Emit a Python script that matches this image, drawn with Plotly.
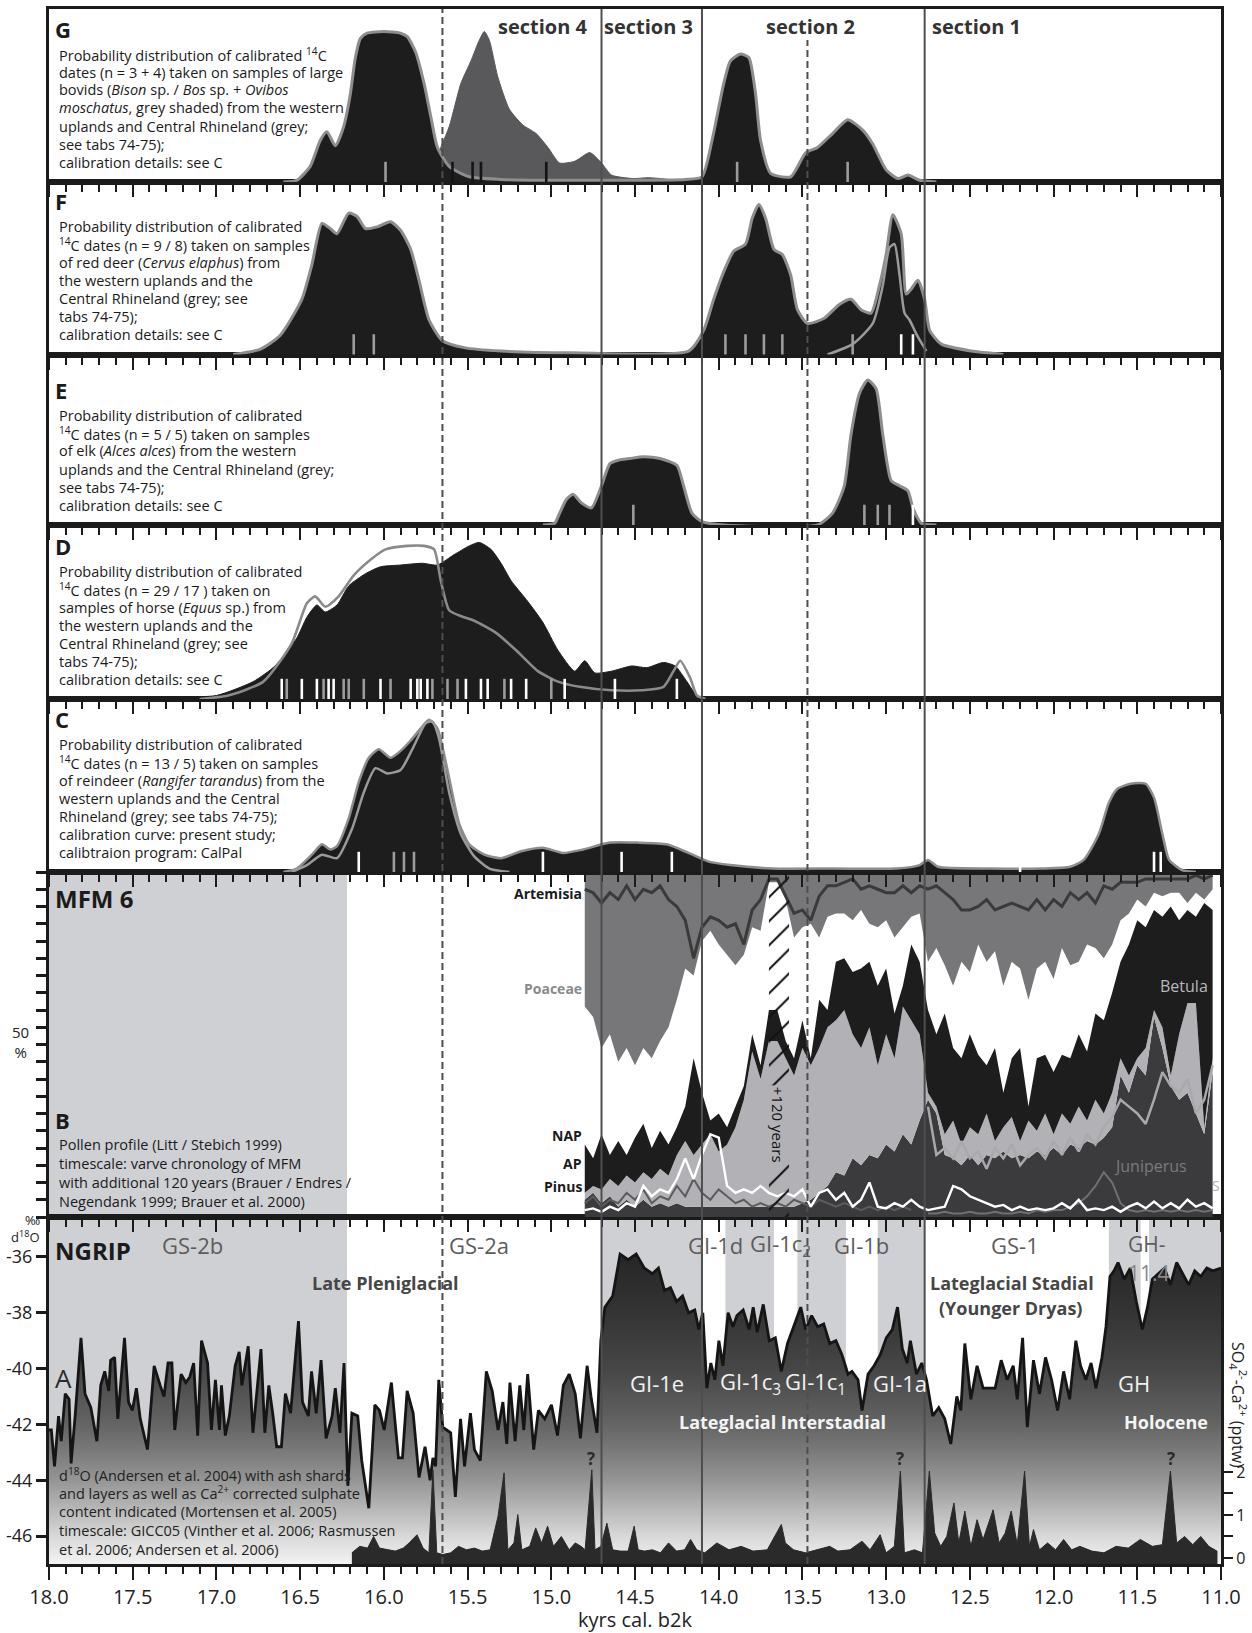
import plotly.graph_objects as go

# ---------------------------------------------------------------------------
# Data (kyrs cal. b2k on x)
# ---------------------------------------------------------------------------

# G - large bovids
G_KYR = [16.60, 16.52, 16.44, 16.38, 16.34, 16.29, 16.24, 16.20, 16.17, 16.14, 16.10, 16.00, 15.90,
         15.86, 15.81, 15.76, 15.72, 15.68, 15.61, 15.49, 15.30, 15.00, 14.60, 14.20, 14.10, 14.04,
         13.97, 13.93, 13.87, 13.82, 13.78, 13.75, 13.69, 13.57, 13.48, 13.41, 13.32, 13.23, 13.14,
         13.08, 13.00, 12.93, 12.87, 12.80, 12.70]
G_PDF = [0.0, 0.01, 0.09, 0.24, 0.29, 0.21, 0.32, 0.51, 0.72, 0.83, 0.86, 0.87, 0.86,
         0.84, 0.75, 0.57, 0.38, 0.20, 0.09, 0.03, 0.015, 0.01, 0.01, 0.015, 0.03, 0.24,
         0.57, 0.70, 0.74, 0.72, 0.51, 0.24, 0.05, 0.03, 0.17, 0.20, 0.28, 0.36, 0.30,
         0.22, 0.07, 0.02, 0.04, 0.01, 0.0]
G_OVIBOS_KYR = [15.76, 15.71, 15.61, 15.54, 15.48, 15.43, 15.40, 15.37, 15.32, 15.25, 15.17, 15.09,
                15.02, 14.95, 14.86, 14.77, 14.70, 14.64, 14.51, 14.42, 14.30, 14.21]
G_OVIBOS_PDF = [0.0, 0.09, 0.32, 0.57, 0.70, 0.82, 0.87, 0.82, 0.61, 0.42, 0.33, 0.28,
                0.20, 0.11, 0.12, 0.17, 0.11, 0.04, 0.02, 0.025, 0.015, 0.0]
G_RHINE_KYR = [16.40, 16.30, 16.15, 16.00, 15.85, 15.75, 15.70, 15.66]
G_RHINE_PDF = [0.0, 0.02, 0.03, 0.03, 0.04, 0.07, 0.10, 0.14]
G_DATE_KYR = [15.99, 15.59, 15.47, 15.42, 15.03, 13.89, 13.23]
G_DATE_TONE = ['grey', 'black', 'black', 'black', 'black', 'grey', 'grey']

# F - red deer
F_KYR = [16.90, 16.74, 16.62, 16.49, 16.43, 16.37, 16.32, 16.28, 16.21, 16.16, 16.11, 16.04, 15.96,
         15.90, 15.84, 15.79, 15.73, 15.65, 15.52, 15.30, 14.87, 14.18, 14.09, 14.03, 13.97, 13.91,
         13.84, 13.80, 13.76, 13.72, 13.67, 13.62, 13.57, 13.53, 13.47, 13.37, 13.28, 13.21, 13.15,
         13.09, 13.04, 13.00, 12.96, 12.91, 12.88, 12.85, 12.81, 12.77, 12.74, 12.67, 12.49, 12.30]
F_PDF = [0.0, 0.03, 0.11, 0.32, 0.52, 0.76, 0.73, 0.70, 0.82, 0.80, 0.73, 0.74, 0.77,
         0.72, 0.61, 0.43, 0.20, 0.08, 0.04, 0.02, 0.01, 0.02, 0.14, 0.32, 0.48, 0.60,
         0.64, 0.79, 0.87, 0.79, 0.61, 0.58, 0.46, 0.26, 0.18, 0.21, 0.29, 0.32, 0.26,
         0.24, 0.40, 0.58, 0.81, 0.70, 0.35, 0.38, 0.43, 0.32, 0.14, 0.06, 0.02, 0.0]
F_RHINE_KYR = [13.35, 13.20, 13.08, 13.02, 12.98, 12.95, 12.92, 12.89, 12.86, 12.82, 12.76]
F_RHINE_PDF = [0.0, 0.06, 0.18, 0.40, 0.62, 0.64, 0.46, 0.24, 0.20, 0.12, 0.02]
F_DATE_KYR = [16.18, 16.06, 13.96, 13.84, 13.73, 13.62, 13.20, 12.91, 12.84]
F_DATE_TONE = ['grey', 'grey', 'grey', 'grey', 'grey', 'grey', 'grey', 'white', 'white']

# E - elk
E_KYR = [15.05, 14.98, 14.95, 14.91, 14.87, 14.82, 14.76, 14.70, 14.65, 14.60, 14.53, 14.45, 14.35,
         14.25, 14.21, 14.16, 14.10, 13.97, 13.41, 13.32, 13.25, 13.21, 13.16, 13.11, 13.06, 13.02,
         12.97, 12.92, 12.87, 12.84, 12.79, 12.70]
E_PDF = [0.0, 0.01, 0.07, 0.15, 0.18, 0.13, 0.10, 0.23, 0.36, 0.38, 0.39, 0.40, 0.39,
         0.35, 0.23, 0.07, 0.02, 0.0, 0.0, 0.07, 0.23, 0.53, 0.77, 0.85, 0.80, 0.53,
         0.26, 0.23, 0.20, 0.10, 0.01, 0.0]
E_DATE_KYR = [14.51, 13.13, 13.05, 12.98, 12.84]
E_DATE_TONE = ['grey', 'grey', 'grey', 'grey', 'white']

# D - horse
D_KYR = [17.40, 17.27, 17.00, 16.78, 16.65, 16.52, 16.46, 16.40, 16.35, 16.28, 16.21, 16.11, 16.02,
         15.90, 15.77, 15.68, 15.58, 15.49, 15.43, 15.36, 15.30, 15.24, 15.14, 15.05, 14.96, 14.86,
         14.80, 14.74, 14.64, 14.52, 14.43, 14.33, 14.26, 14.19, 14.13, 14.05]
D_PDF = [0.0, 0.01, 0.02, 0.10, 0.19, 0.35, 0.47, 0.54, 0.50, 0.54, 0.65, 0.72, 0.76,
         0.77, 0.78, 0.77, 0.83, 0.88, 0.90, 0.86, 0.78, 0.68, 0.56, 0.44, 0.28, 0.16,
         0.22, 0.15, 0.16, 0.19, 0.18, 0.21, 0.19, 0.10, 0.02, 0.0]
D_RHINE_KYR = [17.10, 16.93, 16.72, 16.55, 16.46, 16.41, 16.35, 16.27, 16.18, 16.08, 15.99, 15.86,
               15.76, 15.70, 15.66, 15.61, 15.55, 15.46, 15.33, 15.21, 15.08, 14.96, 14.83, 14.64,
               14.46, 14.33, 14.27, 14.23, 14.17, 14.13, 14.08]
D_RHINE_PDF = [0.0, 0.02, 0.10, 0.32, 0.55, 0.59, 0.53, 0.59, 0.71, 0.80, 0.86, 0.88,
               0.88, 0.86, 0.68, 0.51, 0.48, 0.45, 0.38, 0.28, 0.16, 0.10, 0.07, 0.05,
               0.05, 0.07, 0.16, 0.22, 0.12, 0.02, 0.0]
D_DATE_KYR = [16.61, 16.58, 16.49, 16.40, 16.36, 16.33, 16.30, 16.24, 16.21, 16.12, 16.02, 15.96,
              15.84, 15.80, 15.78, 15.74, 15.71, 15.62, 15.56, 15.51, 15.42, 15.38, 15.28, 15.24,
              15.15, 15.00, 14.92, 14.62, 14.25]
D_DATE_TONE = ['white', 'grey', 'white', 'white', 'grey', 'white', 'white', 'grey', 'grey', 'grey',
               'white', 'grey', 'white', 'white', 'white', 'white', 'grey', 'grey', 'grey', 'white',
               'white', 'white', 'grey', 'white', 'white', 'grey', 'white', 'white', 'white']

# C - reindeer
C_KYR = [16.60, 16.52, 16.43, 16.37, 16.32, 16.28, 16.21, 16.15, 16.09, 16.03, 15.96, 15.90, 15.84,
         15.78, 15.73, 15.68, 15.62, 15.55, 15.49, 15.40, 15.30, 15.18, 15.05, 14.93, 14.81, 14.65,
         14.49, 14.31, 14.18, 14.06, 13.93, 13.68, 13.31, 12.94, 12.80, 12.75, 12.69, 12.38, 12.07,
         11.90, 11.82, 11.73, 11.67, 11.62, 11.54, 11.45, 11.40, 11.35, 11.31, 11.23, 11.15]
C_PDF = [0.0, 0.02, 0.10, 0.16, 0.13, 0.15, 0.31, 0.52, 0.66, 0.71, 0.66, 0.70, 0.76,
         0.83, 0.88, 0.83, 0.59, 0.28, 0.16, 0.10, 0.08, 0.12, 0.14, 0.11, 0.13, 0.17,
         0.17, 0.16, 0.11, 0.06, 0.04, 0.02, 0.02, 0.02, 0.04, 0.07, 0.03, 0.02, 0.02,
         0.03, 0.07, 0.22, 0.40, 0.48, 0.51, 0.51, 0.43, 0.22, 0.07, 0.01, 0.0]
C_RHINE_KYR = [16.55, 16.46, 16.37, 16.28, 16.19, 16.12, 16.05, 15.98, 15.90, 15.83, 15.75, 15.71,
               15.67, 15.61, 15.54, 15.46, 15.37, 15.25]
C_RHINE_PDF = [0.0, 0.04, 0.10, 0.08, 0.25, 0.46, 0.60, 0.57, 0.59, 0.71, 0.86, 0.87,
               0.77, 0.46, 0.22, 0.09, 0.02, 0.0]
C_DATE_KYR = [16.15, 15.94, 15.88, 15.82, 15.05, 14.58, 14.28, 12.20, 11.40, 11.36]
C_DATE_TONE = ['white', 'grey', 'grey', 'grey', 'white', 'white', 'white', 'white', 'white', 'white']

# B - pollen profile MFM 6 (cumulative %, layer boundaries)
POLLEN_KYR = [14.80, 14.75, 14.70, 14.65, 14.60, 14.55, 14.50, 14.45, 14.40, 14.35, 14.30, 14.25,
              14.20, 14.15, 14.10, 14.05, 14.00, 13.95, 13.90, 13.85, 13.80, 13.75, 13.70, 13.65,
              13.60, 13.55, 13.50, 13.45, 13.40, 13.35, 13.30, 13.25, 13.20, 13.15, 13.10, 13.05,
              13.00, 12.95, 12.90, 12.85, 12.80, 12.75, 12.70, 12.65, 12.60, 12.55, 12.50, 12.45,
              12.40, 12.35, 12.30, 12.25, 12.20, 12.15, 12.10, 12.05, 12.00, 11.95, 11.90, 11.85,
              11.80, 11.75, 11.70, 11.65, 11.60, 11.55, 11.50, 11.45, 11.40, 11.35, 11.30, 11.25,
              11.20, 11.15, 11.10, 11.05]
ARTEMISIA = [95, 94, 91, 94, 92, 96, 92, 95, 94, 96, 92, 90, 86, 75, 84, 87, 86, 84, 85, 79,
             89, 92, 98, 98, 93, 88, 89, 86, 93, 96, 96, 97, 98, 95, 96, 95, 94, 94, 96, 94,
             96, 95, 96, 94, 92, 89, 89, 90, 92, 89, 90, 91, 90, 89, 92, 89, 92, 90, 94, 92,
             94, 91, 96, 95, 97, 97, 97, 98, 98, 98, 98, 98, 98, 99, 98, 99]
POACEAE_BASE = [61, 58, 49, 53, 45, 49, 44, 49, 46, 51, 55, 63, 72, 70, 80, 83, 79, 76, 73, 76,
                84, 83, 97, 97, 92, 81, 84, 85, 81, 87, 88, 88, 86, 89, 85, 84, 86, 81, 84, 87,
                88, 74, 78, 73, 67, 74, 71, 79, 74, 77, 67, 74, 72, 63, 72, 74, 69, 78, 73, 74,
                79, 78, 75, 79, 86, 88, 92, 90, 94, 93, 94, 94, 91, 94, 92, 95]
BETULA_TOP = [21, 17, 24, 18, 22, 18, 23, 27, 20, 25, 21, 26, 32, 46, 36, 28, 30, 26, 32, 38,
              53, 44, 60, 60, 51, 46, 57, 46, 63, 60, 74, 75, 71, 72, 74, 67, 72, 59, 67, 79,
              74, 60, 53, 59, 49, 46, 53, 47, 44, 49, 36, 46, 49, 32, 46, 47, 42, 47, 46, 53,
              48, 59, 57, 65, 74, 79, 86, 84, 89, 87, 90, 86, 89, 87, 91, 89]
AP_TOP = [7, 9, 8, 11, 9, 12, 10, 13, 11, 14, 12, 18, 22, 18, 21, 24, 19, 21, 26, 34,
          48, 40, 51, 51, 46, 41, 49, 44, 49, 55, 57, 60, 53, 49, 55, 44, 53, 46, 61, 57,
          53, 36, 32, 24, 28, 21, 26, 24, 30, 22, 26, 29, 22, 28, 25, 30, 24, 30, 27, 32,
          28, 34, 30, 36, 46, 41, 46, 49, 60, 55, 41, 53, 62, 62, 26, 46]
PINUS_TOP = [5, 7, 4, 6, 3, 5, 3, 5, 3, 4, 3, 4, 3, 3, 3, 3, 3, 3, 3, 3,
             3, 3, 3, 3, 3, 3, 4, 5, 7, 9, 13, 12, 17, 15, 18, 17, 21, 19, 24, 21,
             28, 34, 30, 18, 17, 15, 18, 15, 18, 17, 19, 17, 18, 17, 19, 18, 20, 18, 21, 20,
             22, 21, 23, 26, 41, 36, 44, 41, 58, 49, 38, 34, 36, 30, 24, 42]
JUNIPERUS_CURVE = [32, 18, 20, 17, 22, 17, 19, 14, 20, 17, 21, 15, 18, 20, 17, 22, 18, 23, 19, 24,
                   21, 26, 29, 34, 32, 30, 27, 34, 42, 38, 36, 40, 30, 34, 44]
JUNIPERUS_LOW = [1, 1, 1.5, 1, 1, 1.5, 1, 1, 1.5, 1, 1, 1.5, 1, 2, 1.5, 2, 2, 3, 4, 6,
                 9, 13, 10, 4, 2, 1.5, 2, 1.5, 2, 1.5, 2, 1.5, 2, 1.5, 2]
PINUS_CURVE = [4, 6, 3, 5, 4, 7, 5, 8, 4, 6, 5, 9, 6, 11, 7, 5, 8, 6, 4, 5,
               3, 4, 3, 4, 3, 5, 4, 3, 5, 4, 3, 4, 3, 2, 3, 2, 3, 2, 3, 2]
SALIX_CURVE = [2, 2.5, 1.5, 3, 2, 4, 3, 9, 6, 8, 7, 11, 17, 11, 18, 24, 23, 9, 7, 8,
               7, 9, 7, 6, 7, 6, 8, 3, 7, 8, 5, 7, 3, 5, 10, 3, 2.5, 4, 3, 5,
               3, 2, 2.5, 3, 9, 8, 6, 5, 4, 3, 3.5, 2, 3, 2, 2.5, 2, 2.5, 4, 2.5, 5,
               2, 2.5, 2, 3, 1.5, 3, 4, 2.5, 4.5, 2.5, 4, 2.5, 5, 3, 4, 2.5]
VARVE_GAP = (13.70, 13.58)  # +120 years inserted into the varve chronology

# A - NGRIP d18O
D18O_KYR = [18.00, 17.986, 17.967, 17.943, 17.927, 17.903, 17.880, 17.868, 17.844, 17.809,
            17.785, 17.750, 17.714, 17.691, 17.667, 17.643, 17.632, 17.608, 17.589, 17.549,
            17.525, 17.502, 17.478, 17.455, 17.412, 17.372, 17.336, 17.313, 17.289, 17.266,
            17.249, 17.211, 17.183, 17.159, 17.136, 17.112, 17.089, 17.053, 17.030, 17.006,
            16.982, 16.970, 16.947, 16.923, 16.888, 16.864, 16.848, 16.810, 16.782, 16.734,
            16.711, 16.687, 16.664, 16.640, 16.612, 16.588, 16.557, 16.510, 16.486, 16.451,
            16.432, 16.404, 16.375, 16.345, 16.309, 16.290, 16.262, 16.238, 16.215, 16.191,
            16.156, 16.132, 16.090, 16.054, 16.026, 15.998, 15.955, 15.913, 15.889, 15.861,
            15.825, 15.790, 15.754, 15.724, 15.707, 15.691, 15.672, 15.648, 15.601, 15.573,
            15.542, 15.518, 15.483, 15.459, 15.424, 15.388, 15.353, 15.318, 15.289, 15.266,
            15.247, 15.216, 15.188, 15.164, 15.141, 15.105, 15.077, 15.039, 14.999, 14.963,
            14.928, 14.893, 14.857, 14.826, 14.786, 14.763, 14.727, 14.704, 14.680, 14.633,
            14.589, 14.541, 14.493, 14.444, 14.396, 14.360, 14.324, 14.288, 14.252, 14.216,
            14.180, 14.143, 14.119, 14.095, 14.071, 14.047, 14.023, 13.999, 13.975, 13.944,
            13.915, 13.891, 13.854, 13.818, 13.794, 13.770, 13.734, 13.698, 13.662, 13.626,
            13.589, 13.553, 13.510, 13.481, 13.445, 13.409, 13.373, 13.337, 13.300, 13.264,
            13.228, 13.204, 13.168, 13.144, 13.108, 13.072, 13.035, 12.999, 12.963, 12.932,
            12.903, 12.874, 12.855, 12.819, 12.787, 12.759, 12.722, 12.686, 12.650, 12.614,
            12.578, 12.554, 12.530, 12.494, 12.457, 12.421, 12.385, 12.349, 12.313, 12.277,
            12.241, 12.217, 12.185, 12.157, 12.120, 12.084, 12.048, 12.012, 11.976, 11.940,
            11.904, 11.867, 11.839, 11.807, 11.776, 11.747, 11.711, 11.687, 11.663, 11.639,
            11.615, 11.578, 11.542, 11.506, 11.470, 11.439, 11.410, 11.374, 11.338, 11.302,
            11.265, 11.229, 11.193, 11.157, 11.121, 11.085, 11.049, 11.000]
D18O = [-42.2, -42.2, -43.5, -41.7, -42.6, -40.9, -41.1, -43.4, -41.7, -38.9,
        -40.9, -41.4, -42.6, -40.6, -40.1, -40.8, -39.7, -39.6, -41.8, -38.9,
        -41.2, -41.5, -40.7, -41.8, -42.9, -39.9, -40.6, -41.0, -39.8, -39.8,
        -42.2, -40.2, -40.5, -40.3, -39.8, -42.4, -39.0, -39.8, -42.2, -40.4,
        -42.2, -40.6, -42.4, -41.7, -39.9, -39.4, -40.6, -39.2, -42.3, -39.3,
        -42.3, -40.6, -41.6, -42.8, -42.8, -40.9, -41.6, -38.3, -41.2, -41.7,
        -40.1, -41.6, -39.7, -42.5, -41.7, -40.7, -42.3, -39.8, -44.2, -41.6,
        -41.7, -43.3, -45.0, -41.3, -41.5, -42.2, -40.5, -43.2, -43.2, -40.8,
        -41.6, -43.9, -42.8, -44.0, -43.2, -43.5, -40.4, -42.1, -42.3, -44.6,
        -41.8, -43.5, -41.6, -42.9, -43.3, -40.1, -40.8, -42.2, -41.2, -42.7,
        -40.5, -42.6, -40.6, -42.2, -40.2, -42.9, -41.5, -41.8, -41.3, -42.4,
        -40.6, -40.2, -40.9, -42.5, -39.9, -41.0, -42.3, -39.0, -37.8, -37.4,
        -35.9, -36.1, -35.9, -36.4, -36.6, -36.4, -37.2, -37.1, -37.6, -37.4,
        -38.0, -37.9, -38.6, -38.0, -40.7, -39.8, -40.4, -39.0, -39.9, -38.0,
        -38.5, -38.1, -37.9, -38.6, -37.8, -38.7, -37.7, -39.0, -38.9, -40.1,
        -39.1, -38.5, -37.8, -38.6, -38.1, -38.5, -38.4, -39.1, -39.0, -39.5,
        -40.2, -40.1, -40.4, -41.5, -40.2, -39.9, -39.5, -38.9, -38.6, -37.8,
        -39.3, -39.8, -39.0, -40.2, -39.8, -40.4, -41.7, -41.4, -41.8, -42.7,
        -41.0, -41.5, -39.1, -41.1, -39.9, -40.7, -40.7, -40.7, -39.7, -40.4,
        -39.9, -41.1, -38.9, -42.1, -39.7, -40.9, -39.6, -40.4, -41.5, -40.1,
        -41.1, -39.0, -39.9, -40.4, -39.8, -40.7, -39.6, -38.5, -36.7, -36.5,
        -36.2, -36.8, -36.4, -37.6, -38.6, -37.8, -36.8, -36.6, -36.4, -37.0,
        -36.2, -36.6, -37.0, -36.5, -36.7, -36.4, -36.5, -36.4]

# A - Ca2+ corrected sulphate (pptw)
SO4_KYR = [16.191, 16.144, 16.097, 16.061, 16.026, 15.979, 15.932, 15.884, 15.849, 15.802,
           15.766, 15.731, 15.707, 15.684, 15.648, 15.601, 15.554, 15.507, 15.459, 15.412,
           15.365, 15.318, 15.282, 15.259, 15.223, 15.200, 15.176, 15.129, 15.093, 15.058,
           15.022, 14.987, 14.940, 14.893, 14.857, 14.822, 14.798, 14.758, 14.739, 14.704,
           14.668, 14.633, 14.589, 14.541, 14.505, 14.481, 14.444, 14.396, 14.348, 14.300,
           14.252, 14.204, 14.168, 14.131, 14.083, 14.011, 13.939, 13.866, 13.794, 13.710,
           13.626, 13.602, 13.553, 13.481, 13.409, 13.337, 13.288, 13.216, 13.144, 13.096,
           13.036, 13.000, 12.951, 12.915, 12.891, 12.831, 12.783, 12.742, 12.710, 12.674,
           12.638, 12.595, 12.566, 12.530, 12.494, 12.457, 12.421, 12.361, 12.325, 12.289,
           12.253, 12.217, 12.173, 12.144, 12.120, 12.084, 12.036, 11.988, 11.940, 11.892,
           11.843, 11.771, 11.699, 11.627, 11.554, 11.482, 11.410, 11.350, 11.302, 11.265,
           11.217, 11.169, 11.121, 11.073, 11.024]
SO4 = [0.12, 0.27, 0.23, 0.50, 0.23, 0.19, 0.16, 0.23, 0.35, 0.54,
       0.23, 0.12, 2.05, 0.12, 0.08, 0.12, 0.27, 0.19, 0.23, 0.16,
       0.19, 0.97, 1.98, 0.19, 0.35, 1.01, 0.19, 0.27, 0.70, 0.35,
       0.74, 0.27, 0.50, 0.19, 0.35, 0.27, 0.19, 2.05, 0.19, 0.27,
       0.81, 0.19, 0.16, 0.16, 0.74, 0.19, 0.16, 0.19, 0.12, 0.35,
       0.16, 0.19, 0.43, 0.19, 0.12, 0.35, 0.19, 0.27, 0.16, 0.19,
       0.78, 0.35, 0.19, 0.12, 0.19, 0.27, 0.16, 0.19, 0.39, 0.19,
       0.54, 0.12, 0.27, 2.02, 0.12, 0.19, 0.12, 2.02, 0.58, 0.27,
       0.50, 1.28, 0.35, 1.09, 0.27, 0.89, 0.43, 1.12, 0.35, 0.58,
       1.09, 0.31, 2.02, 0.27, 0.66, 0.19, 0.35, 0.19, 0.43, 0.19,
       0.27, 0.16, 0.12, 0.27, 0.23, 0.43, 0.27, 0.31, 2.02, 0.35,
       0.50, 0.31, 0.50, 0.27, 0.16]

# Greenland stratigraphy: grey = interstadial / GS-2b sub-episodes
NGRIP_GREY_BANDS = [(18.00, 16.22), (14.70, 14.095), (13.96, 13.67), (13.53, 13.24),
                    (13.05, 12.77), (11.67, 11.48), (11.43, 11.00)]
MFM_GREY_BAND = (18.00, 16.22)
SECTION_LINES = [(15.65, 'dash', 9), (14.70, 'solid', 9), (14.10, 'solid', 9),
                 (13.47, 'dash', 40), (12.77, 'solid', 9)]

# ---------------------------------------------------------------------------
# Layout geometry
# ---------------------------------------------------------------------------
W, H = 1252, 1633
ML, MR, MT, MB = 49, 31, 9, 69
PLOT_W, PLOT_H = W - ML - MR, H - MT - MB
PANEL_PX = {'G': (9, 182), 'F': (182, 354.5), 'E': (354.5, 525), 'D': (525, 699),
            'C': (699, 872), 'B': (872, 1217), 'A': (1217, 1564)}
ORDER = ['A', 'B', 'C', 'D', 'E', 'F', 'G']

INK = '#1b1b1b'
BLACK_FILL = '#1d1d1d'
OUTLINE = '#8e8e8e'
TONES = {'white': '#ffffff', 'grey': '#9c9c9c', 'black': '#141414'}
SANS = 'Open Sans'
BODY_SIZE = 14.5


def ypaper(py):
    return (H - MB - py) / PLOT_H


def xpaper(px):
    return (px - ML) / PLOT_W


def sfx(p):
    n = ORDER.index(p) + 1
    return '' if n == 1 else str(n)


fig = go.Figure()


def add(trace, p, yaxis=None):
    trace.update(xaxis='x' + sfx(p), yaxis=yaxis or ('y' + sfx(p)), hoverinfo='skip', showlegend=False)
    fig.add_trace(trace)


def pdf_fill(kyr, vals, p, fill=BLACK_FILL, line=OUTLINE, width=3.0):
    add(go.Scatter(x=kyr, y=vals, mode='lines', fill='tozeroy', fillcolor=fill,
                   line=dict(color=line, width=width, shape='spline', smoothing=0.6)), p)


def pdf_line(kyr, vals, p, color=OUTLINE, width=2.5):
    add(go.Scatter(x=kyr, y=vals, mode='lines',
                   line=dict(color=color, width=width, shape='spline', smoothing=0.6)), p)


TICK_PX = 16


def date_marks(kyr, tones, p):
    top, bot = PANEL_PX[p]
    h = bot - top
    add(go.Scatter(x=kyr, y=[(TICK_PX / 2 + 1) / h] * len(kyr), mode='markers',
                   marker=dict(symbol='line-ns', size=TICK_PX,
                               line=dict(width=2.6, color=[TONES[t] for t in tones]))), p)


# ---------------- A: NGRIP ----------------
grad = [[0.0, '#f3f3f3'], [0.083, '#d8d8d8'], [0.167, '#b6b6b6'], [0.25, '#959595'],
        [0.333, '#7b7b7b'], [0.417, '#646464'], [0.583, '#464646'], [0.75, '#343434'],
        [1.0, '#202020']]
add(go.Scatter(x=D18O_KYR + [D18O_KYR[-1], D18O_KYR[0]], y=D18O + [-48.0, -48.0],
               mode='lines', fill='toself', line=dict(width=0),
               fillgradient=dict(type='vertical', start=-47.0, stop=-35.0, colorscale=grad)), 'A')
add(go.Scatter(x=SO4_KYR + [SO4_KYR[-1], SO4_KYR[0]], y=SO4 + [-0.6, -0.6], mode='lines',
               fill='toself', fillcolor='#2a2a2a', line=dict(color='#2a2a2a', width=1)), 'A', 'y8')
add(go.Scatter(x=D18O_KYR, y=D18O, mode='lines', line=dict(color='#151515', width=2.8)), 'A')

# ---------------- B: pollen ----------------
add(go.Scatter(x=POLLEN_KYR, y=PINUS_TOP, mode='lines', fill='tozeroy', fillcolor='#3b3b3d',
               line=dict(width=0)), 'B')
add(go.Scatter(x=POLLEN_KYR, y=AP_TOP, mode='lines', fill='tonexty', fillcolor='#b2b2b6',
               line=dict(width=0)), 'B')
add(go.Scatter(x=POLLEN_KYR, y=BETULA_TOP, mode='lines', fill='tonexty', fillcolor='#1d1d1d',
               line=dict(width=0)), 'B')
add(go.Scatter(x=POLLEN_KYR, y=POACEAE_BASE, mode='lines', line=dict(width=0)), 'B')
add(go.Scatter(x=[POLLEN_KYR[0], POLLEN_KYR[-1]], y=[100, 100], mode='lines', fill='tonexty',
               fillcolor='#77777a', line=dict(width=0)), 'B')
add(go.Scatter(x=POLLEN_KYR, y=ARTEMISIA, mode='lines', line=dict(color='#3a3a3a', width=3)), 'B')
add(go.Scatter(x=POLLEN_KYR[41:], y=JUNIPERUS_CURVE, mode='lines',
               line=dict(color='#a9a9ad', width=2.5)), 'B')
add(go.Scatter(x=POLLEN_KYR[41:], y=JUNIPERUS_LOW, mode='lines',
               line=dict(color='#707072', width=2)), 'B')
add(go.Scatter(x=POLLEN_KYR[:40], y=PINUS_CURVE, mode='lines',
               line=dict(color='#5c5c5e', width=2)), 'B')
add(go.Scatter(x=POLLEN_KYR, y=SALIX_CURVE, mode='lines', line=dict(color='#ffffff', width=2.4)), 'B')
g0, g1 = VARVE_GAP
add(go.Scatter(x=[g0, g1, g1, g0, g0], y=[0, 0, 100, 100, 0], mode='lines', fill='toself',
               fillcolor='rgba(0,0,0,0)', line=dict(width=0),
               fillpattern=dict(shape='/', fgcolor='#111111', bgcolor='rgba(0,0,0,0)',
                                size=17, solidity=0.12)), 'B')

# ---------------- C..G: calibrated 14C date distributions ----------------
pdf_fill(C_KYR, C_PDF, 'C', width=2.5)
pdf_line(C_RHINE_KYR, C_RHINE_PDF, 'C', color='#9a9a9a')
date_marks(C_DATE_KYR, C_DATE_TONE, 'C')

pdf_fill(D_KYR, D_PDF, 'D', line=BLACK_FILL, width=1)
pdf_line(D_RHINE_KYR, D_RHINE_PDF, 'D', color='#8a8a8a', width=2.6)
date_marks(D_DATE_KYR, D_DATE_TONE, 'D')

pdf_fill(E_KYR, E_PDF, 'E')
date_marks(E_DATE_KYR, E_DATE_TONE, 'E')

pdf_fill(F_KYR, F_PDF, 'F')
pdf_line(F_RHINE_KYR, F_RHINE_PDF, 'F', color='#9a9a9a')
date_marks(F_DATE_KYR, F_DATE_TONE, 'F')

pdf_line(G_RHINE_KYR, G_RHINE_PDF, 'G')
pdf_fill(G_OVIBOS_KYR, G_OVIBOS_PDF, 'G', fill='#59595c', line='#59595c', width=1)
pdf_fill(G_KYR, G_PDF, 'G')
date_marks(G_DATE_KYR, G_DATE_TONE, 'G')

# ---------------------------------------------------------------------------
# Axes
# ---------------------------------------------------------------------------
layout = dict(width=W, height=H, margin=dict(l=ML, r=MR, t=MT, b=MB, pad=0),
              paper_bgcolor='white', plot_bgcolor='white', showlegend=False,
              font=dict(family=SANS, color=INK, size=14), template='none')

for p in ORDER:
    s = sfx(p)
    top, bot = PANEL_PX[p]
    xa = dict(domain=[0, 1], range=[18.0, 11.0], anchor='y' + s, showgrid=False, zeroline=False,
              showline=True, mirror=True, linecolor=INK, linewidth=3,
              ticks='outside', ticklen=12, tickwidth=2.2, tickcolor=INK, tick0=0, dtick=0.5,
              minor=dict(ticks='outside', dtick=0.1, ticklen=7, tickwidth=2, tickcolor=INK,
                         showgrid=False),
              showticklabels=False, fixedrange=True, automargin=False)
    ya = dict(domain=[ypaper(bot), ypaper(top)], anchor='x' + s, showgrid=False, zeroline=False,
              showline=True, mirror=True, linecolor=INK, linewidth=2.5, ticks='',
              showticklabels=False, range=[0, 1], fixedrange=True, automargin=False)
    if p == 'A':
        xa.update(showticklabels=True, tickformat='.1f', ticklen=13,
                  tickfont=dict(size=20, color='#222', family=SANS),
                  title=dict(text='kyrs cal. b2k', font=dict(size=20, color='#222', family=SANS),
                             standoff=8))
        ya.update(range=[-47.0, -34.57], tickvals=[-36, -38, -40, -42, -44, -46],
                  ticktext=['-36', '-38', '-40', '-42', '-44', '-46'], ticks='outside',
                  ticklen=10, tickwidth=2.5, tickcolor=INK, showticklabels=True,
                  tickfont=dict(size=18, color='#222', family=SANS), linewidth=3)
    if p == 'B':
        ya.update(range=[0, 100], ticks='outside', dtick=5, tick0=0, ticklen=10, tickwidth=2.5,
                  tickcolor=INK)
    layout['xaxis' + s] = xa
    layout['yaxis' + s] = ya

layout['yaxis8'] = dict(overlaying='y', side='right', anchor='x', range=[-0.14, 7.93],
                        tickvals=[0, 0.5, 1, 1.5, 2], ticktext=['0', ' ', '1', ' ', '2'],
                        ticks='outside', ticklen=9, tickwidth=2.2, tickcolor=INK,
                        showline=True, linecolor=INK, linewidth=3, showgrid=False,
                        zeroline=False, tickfont=dict(size=16, color='#222', family=SANS),
                        fixedrange=True, automargin=False)

# ---------------------------------------------------------------------------
# Shapes: stratigraphic shading and section boundaries
# ---------------------------------------------------------------------------
shapes = []
for x0, x1 in NGRIP_GREY_BANDS:
    shapes.append(dict(type='rect', xref='x', yref='y domain', x0=x0, x1=x1, y0=0, y1=1,
                       fillcolor='#cfd0d4', line=dict(width=0), layer='below'))
shapes.append(dict(type='rect', xref='x2', yref='y2 domain', x0=MFM_GREY_BAND[0],
                   x1=MFM_GREY_BAND[1], y0=0, y1=1, fillcolor='#cfd0d4', line=dict(width=0),
                   layer='below'))
for kyr, style, top_px in SECTION_LINES:
    shapes.append(dict(type='line', xref='x', yref='paper', x0=kyr, x1=kyr, y0=0,
                       y1=ypaper(top_px), layer='above',
                       line=dict(color='#4e4e4e', width=2,
                                 dash='7px,4px' if style == 'dash' else 'solid')))
layout['shapes'] = shapes

# ---------------------------------------------------------------------------
# Text
# ---------------------------------------------------------------------------
ann = []


def note(text, x, py, size=14, color=INK, family=SANS, xanchor='center', xref='x',
         angle=0, bold=False, bg=None):
    if bold:
        text = '<b>' + text + '</b>'
    a = dict(text=text, x=x, y=ypaper(py), xref=xref, yref='paper', showarrow=False,
             xanchor=xanchor, yanchor='middle', textangle=angle,
             font=dict(size=size, color=color, family=family))
    if bg:
        a.update(bgcolor=bg, borderpad=1)
    ann.append(a)


PANEL_TEXT = {
    'G': ['Probability distribution of calibrated <sup>14</sup>C',
          'dates (n = 3 + 4) taken on samples of large',
          'bovids (<i>Bison</i> sp. / <i>Bos</i> sp. + <i>Ovibos</i>',
          '<i>moschatus</i>, grey shaded) from the western',
          'uplands and Central Rhineland (grey;',
          'see tabs 74-75);',
          'calibration details: see C'],
    'F': ['Probability distribution of calibrated',
          '<sup>14</sup>C dates (n = 9 / 8) taken on samples',
          'of red deer (<i>Cervus elaphus</i>) from',
          'the western uplands and the',
          'Central Rhineland (grey; see',
          'tabs 74-75);',
          'calibration details: see C'],
    'E': ['Probability distribution of calibrated',
          '<sup>14</sup>C dates (n = 5 / 5) taken on samples',
          'of elk (<i>Alces alces</i>) from the western',
          'uplands and the Central Rhineland (grey;',
          'see tabs 74-75);',
          'calibration details: see C'],
    'D': ['Probability distribution of calibrated',
          '<sup>14</sup>C dates (n = 29 / 17 ) taken on',
          'samples of horse (<i>Equus</i> sp.) from',
          'the western uplands and the',
          'Central Rhineland (grey; see',
          'tabs 74-75);',
          'calibration details: see C'],
    'C': ['Probability distribution of calibrated',
          '<sup>14</sup>C dates (n = 13 / 5) taken on samples',
          'of reindeer (<i>Rangifer tarandus</i>) from the',
          'western uplands and the Central',
          'Rhineland (grey; see tabs 74-75);',
          'calibration curve: present study;',
          'calibtraion program: CalPal'],
}
LINE_STEP = 18.0
for p, lines in PANEL_TEXT.items():
    top, bot = PANEL_PX[p]
    last = bot - 20
    first = last - LINE_STEP * (len(lines) - 1)
    note(p, xpaper(53), first - 25, size=22, bold=True, xanchor='left', xref='paper')
    for i, t in enumerate(lines):
        note(t, xpaper(57), first + i * LINE_STEP, size=BODY_SIZE, xanchor='left', xref='paper')

# section headers in G
for t, x in [('section 4', 15.05), ('section 3', 14.42), ('section 2', 13.45), ('section 1', 12.46)]:
    note(t, x, 27, size=20, color='#333', bold=True)

# B: pollen labels
note('MFM 6', xpaper(53), 898, size=24, bold=True, xanchor='left', xref='paper')
note('Artemisia', xpaper(584), 893, size=14, bold=True, xanchor='right', xref='paper')
note('Poaceae', xpaper(584), 988, size=14, bold=True, color='#8a8a8c', xanchor='right', xref='paper')
note('NAP', xpaper(584), 1135, size=14, bold=True, xanchor='right', xref='paper')
note('AP', xpaper(584), 1163, size=14, bold=True, xanchor='right', xref='paper')
note('Pinus', xpaper(584), 1186, size=14, bold=True, xanchor='right', xref='paper')
note('Betula', 11.22, 986, size=16, color='#b8b8ba')
note('Juniperus', 11.42, 1166, size=16, color='#7a7a7c')
note('S', 11.03, 1185, size=14, color='#b0b0b0')
note('+120 years', 13.645, 1125, size=15, color='#111', angle=90, bg='#b2b2b6')
note('50<br>%', xpaper(21), 1042, size=15, color='#222', xref='paper')
note('B', xpaper(53), 1120, size=22, bold=True, xanchor='left', xref='paper')
B_LINES = ['Pollen profile (Litt / Stebich 1999)',
           'timescale: varve chronology of MFM',
           'with additional 120 years (Brauer / Endres /',
           'Negendank 1999; Brauer et al. 2000)']
for i, t in enumerate(B_LINES):
    note(t, xpaper(57), 1144 + i * 19.3, size=BODY_SIZE, xanchor='left', xref='paper')

# A: NGRIP labels
note('NGRIP', xpaper(53), 1250, size=24, bold=True, xanchor='left', xref='paper')
note('‰', xpaper(32), 1220, size=13, color='#222', xref='paper')
note('d<sup>18</sup>O', xpaper(25), 1236, size=13, color='#222', xref='paper')
note('A', xpaper(53), 1378, size=26, color='#2a2a2a', xanchor='left', xref='paper')
A_LINES = ['d<sup>18</sup>O (Andersen et al. 2004) with ash shards',
           'and layers as well as Ca<sup>2+</sup> corrected sulphate',
           'content indicated (Mortensen et al. 2005)',
           'timescale: GICC05 (Vinther et al. 2006; Rasmussen',
           'et al. 2006; Andersen et al. 2006)']
for i, t in enumerate(A_LINES):
    note(t, xpaper(57), 1474 + i * 18.8, size=BODY_SIZE, color='#222', xanchor='left',
         xref='paper')

ZONE_GREY = '#5c5c5c'
for t, x in [('GS-2b', 17.14), ('GS-2a', 15.43), ('GI-1d', 14.02), ('GI-1c<sub>2</sub>', 13.63),
             ('GI-1b', 13.15), ('GS-1', 12.23)]:
    note(t, x, 1245, size=22, color=ZONE_GREY)
note('GH-', 11.57, 1244, size=21, color=ZONE_GREY, xanchor='left')
note('11.4', 11.57, 1273, size=21, color='#8a8a8a', xanchor='left')
for t, x in [('GI-1e', 14.37), ('GI-1c<sub>3</sub>', 13.81), ('GI-1c<sub>1</sub>', 13.42),
             ('GI-1a', 12.92), ('GH', 11.52)]:
    note(t, x, 1383, size=22, color='#f2f2f2')
note('Late Pleniglacial', 15.99, 1283, size=18, color='#464646', bold=True)
note('Lateglacial Stadial', 12.25, 1283, size=18, color='#464646', bold=True)
note('(Younger Dryas)', 12.26, 1308, size=18, color='#464646', bold=True)
note('Lateglacial Interstadial', 13.62, 1422, size=18, color='#f4f4f4', bold=True)
note('Holocene', 11.33, 1422, size=18, color='#f4f4f4', bold=True)
for x in [14.76, 12.92, 11.30]:
    note('?', x, 1458, size=17, color='#2a2a2a', bold=True)
note('SO<sub>4</sub><sup>2-</sup>-Ca<sup>2+</sup> (pptw)', xpaper(1239), 1405, size=16,
     color='#222', xref='paper', angle=90)

layout['annotations'] = ann
fig.update_layout(**layout)
fig.write_html('out.html')
